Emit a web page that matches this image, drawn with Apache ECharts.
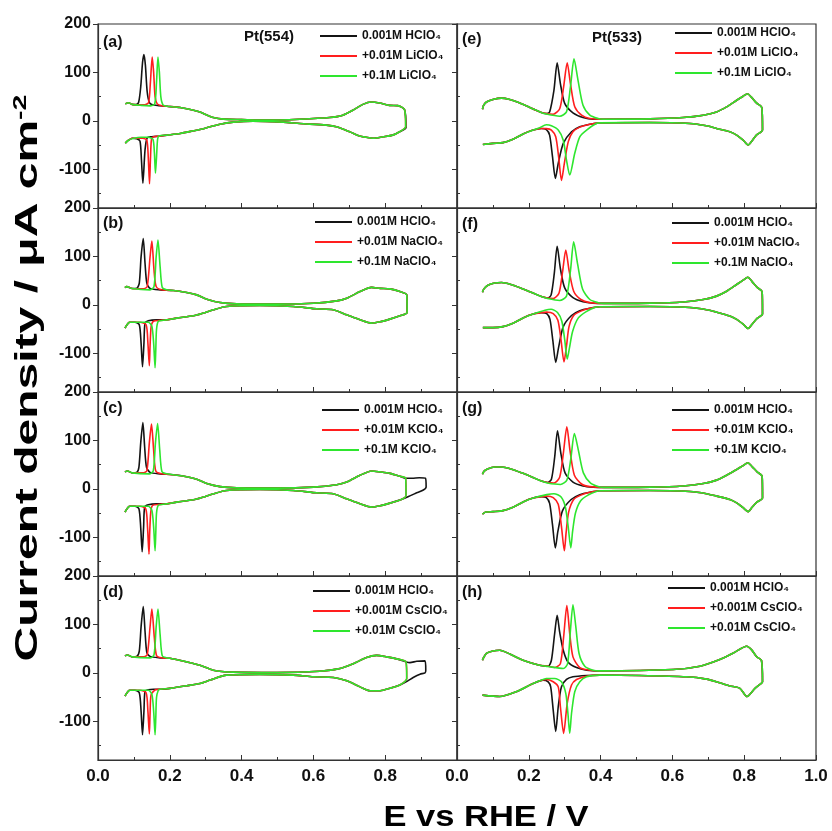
<!DOCTYPE html>
<html>
<head>
<meta charset="utf-8">
<script src="https://cdn.jsdelivr.net/npm/echarts@6/dist/echarts.min.js"></script>
<style>
  html, body { margin: 0; padding: 0; background: #fff; }
  #main { width: 832px; height: 831px; }
</style>
</head>
<body>
<div id="main"></div>
<script>
// ---- data: [E / V, j / uA cm-2] ----
// every loop: up0 -> peak (per series) -> up -> turn -> dn -> dip (per series) -> dn0

// (a) Pt(554) LiClO4
var aUp0 = [[0.076, 35], [0.085, 37.5], [0.095, 34]];
var aUpK = [[0.105, 33.5], [0.113, 38], [0.119, 70], [0.124, 120], [0.128, 137], [0.132, 115], [0.137, 60], [0.143, 38], [0.152, 33], [0.170, 31.5]];
var aUpR = [[0.110, 33], [0.130, 33], [0.141, 38], [0.146, 80], [0.151, 132], [0.155, 100], [0.159, 50], [0.165, 35], [0.178, 31]];
var aUpG = [[0.120, 32], [0.145, 31], [0.158, 35], [0.163, 80], [0.167, 132], [0.171, 100], [0.175, 50], [0.181, 33]];
var aUp = [[0.192, 30], [0.229, 27.4], [0.266, 22], [0.284, 18.5], [0.300, 13], [0.321, 6.9], [0.350, 3.5], [0.400, 2.5], [0.469, 1.4], [0.562, 3.4], [0.645, 6.9], [0.682, 11.7], [0.710, 22], [0.738, 34], [0.761, 39], [0.784, 37], [0.812, 32], [0.835, 31.5], [0.854, 23]];
var aTurn = [[0.857, -12]];
var aTurnK = [[0.858, -14]];
var aDn = [[0.840, -22.6], [0.821, -29.5], [0.794, -33], [0.766, -36], [0.747, -34], [0.729, -31.5], [0.701, -22.6], [0.664, -12.3], [0.636, -8.9], [0.562, -5.5], [0.516, -2.7], [0.432, -0.7], [0.377, -2.7], [0.340, -6.9], [0.312, -12.3], [0.284, -17.8], [0.266, -20.6], [0.229, -26], [0.192, -29.5], [0.170, -31.5]];
var aDnK = [[0.150, -33], [0.137, -35], [0.131, -60], [0.125, -129], [0.121, -80], [0.117, -42], [0.108, -37], [0.095, -36]];
var aDnR = [[0.155, -33], [0.149, -38], [0.146, -80], [0.1435, -130], [0.140, -75], [0.136, -40], [0.125, -36], [0.110, -36], [0.095, -36]];
var aDnG = [[0.166, -38], [0.163, -75], [0.160, -108], [0.157, -65], [0.153, -38], [0.140, -34], [0.120, -34], [0.100, -36]];
var aDn0 = [[0.085, -40], [0.076, -46]];

// (b) Pt(554) NaClO4
var bUp0 = [[0.075, 35.7], [0.080, 37.7], [0.095, 33.6]];
var bUpK = [[0.108, 34], [0.115, 45], [0.120, 99], [0.126, 137], [0.131, 86], [0.136, 45], [0.145, 34], [0.173, 31]];
var bUpR = [[0.126, 33], [0.137, 37.7], [0.145, 99], [0.150, 132], [0.156, 72], [0.162, 38], [0.177, 31]];
var bUpG = [[0.145, 31], [0.156, 37.7], [0.162, 99], [0.167, 134], [0.173, 79], [0.179, 35.7], [0.191, 31]];
var bUp = [[0.210, 29.5], [0.247, 25.4], [0.275, 20.6], [0.303, 11.7], [0.340, 4.8], [0.386, 2], [0.498, 1.4], [0.600, 3.4], [0.665, 8.2], [0.693, 13.7], [0.730, 27.4], [0.762, 36], [0.786, 34], [0.813, 33], [0.841, 27.4], [0.860, 20.6]];
var bTurn = [[0.861, -15.8]];
var bTurnK = [[0.861, -15.8]];
var bDn = [[0.841, -22.6], [0.813, -29.5], [0.786, -35], [0.762, -37.7], [0.730, -31], [0.693, -20.6], [0.655, -10.3], [0.609, -8.2], [0.544, -3.4], [0.451, -1.4], [0.358, -3.4], [0.321, -10.3], [0.293, -17], [0.266, -22.6], [0.219, -27.4], [0.191, -31]];
var bDnK = [[0.163, -31], [0.140, -33], [0.131, -37.7], [0.128, -79], [0.124, -128], [0.120, -79], [0.115, -41], [0.103, -36]];
var bDnR = [[0.173, -32], [0.154, -34], [0.148, -45], [0.145, -85], [0.143, -125.5], [0.139, -79], [0.134, -41], [0.117, -36]];
var bDnG = [[0.182, -32], [0.168, -34], [0.163, -51], [0.161, -92], [0.159, -130], [0.155, -79], [0.150, -44], [0.140, -36], [0.117, -36]];
var bDn0 = [[0.089, -36], [0.084, -38], [0.075, -48]];

// (c) Pt(554) KClO4
var cUp0 = [[0.075, 35], [0.082, 37], [0.095, 33]];
var cUpK = [[0.108, 34], [0.114, 45], [0.119, 95], [0.125, 137], [0.130, 86], [0.135, 45], [0.145, 34], [0.173, 31]];
var cUpR = [[0.125, 33], [0.136, 37], [0.143, 95], [0.149, 134], [0.155, 80], [0.161, 37], [0.177, 31]];
var cUpG = [[0.143, 31], [0.154, 37], [0.160, 95], [0.166, 135], [0.172, 80], [0.178, 36], [0.191, 31]];
var cUp = [[0.210, 29], [0.247, 25], [0.275, 20], [0.303, 11], [0.340, 4.5], [0.386, 2], [0.498, 1.5], [0.600, 3.5], [0.665, 8.5], [0.693, 14], [0.730, 28], [0.762, 37], [0.786, 35], [0.813, 32], [0.841, 26], [0.857, 22]];
var cTurn = [[0.858, -14]];
var cTurnK = [[0.875, 22], [0.895, 23], [0.912, 22], [0.914, 4], [0.905, -3], [0.885, -9], [0.865, -16]];
var cDn = [[0.845, -22], [0.813, -29.5], [0.786, -35], [0.762, -37.7], [0.730, -31], [0.693, -20.6], [0.655, -10.3], [0.609, -8.2], [0.544, -3.4], [0.451, -1.4], [0.358, -3.4], [0.321, -10.3], [0.293, -17], [0.266, -22.6], [0.219, -27.4], [0.191, -31]];
var cDnK = [[0.163, -31], [0.140, -33], [0.130, -38], [0.127, -80], [0.123, -130], [0.119, -80], [0.114, -41], [0.103, -36]];
var cDnR = [[0.173, -32], [0.152, -34], [0.147, -48], [0.144, -90], [0.142, -135], [0.138, -80], [0.133, -41], [0.117, -36]];
var cDnG = [[0.182, -32], [0.168, -34], [0.163, -50], [0.161, -90], [0.159, -128], [0.155, -79], [0.150, -44], [0.140, -36], [0.117, -36]];
var cDn0 = [[0.089, -36], [0.084, -38], [0.075, -48]];

// (d) Pt(554) CsClO4
var dUp0 = [[0.075, 35], [0.082, 37], [0.095, 33]];
var dUpK = [[0.108, 34], [0.115, 45], [0.120, 95], [0.126, 137], [0.131, 86], [0.136, 42], [0.145, 34], [0.173, 31]];
var dUpR = [[0.126, 33], [0.137, 37], [0.145, 95], [0.150, 132], [0.157, 72], [0.163, 36], [0.177, 31]];
var dUpG = [[0.145, 31], [0.156, 37], [0.162, 95], [0.167, 132], [0.173, 79], [0.179, 35], [0.191, 31]];
var dUp = [[0.200, 30], [0.247, 22.6], [0.284, 15.8], [0.321, 5.5], [0.377, 1.4], [0.498, 0.5], [0.618, 3.4], [0.674, 8.9], [0.711, 19], [0.748, 31.5], [0.776, 36], [0.804, 33], [0.832, 28.8], [0.858, 22.6]];
var dTurn = [[0.860, -11.7]];
var dTurnK = [[0.869, 21], [0.888, 24], [0.911, 24.7], [0.913, 5.5], [0.911, 0], [0.897, -2.7], [0.878, -9.6], [0.862, -17]];
var dDn = [[0.841, -25], [0.813, -32], [0.786, -37], [0.758, -37], [0.730, -29], [0.693, -16.5], [0.656, -9.6], [0.600, -8.2], [0.544, -4.8], [0.451, -3.4], [0.358, -4.8], [0.312, -15], [0.284, -22], [0.247, -26.7], [0.200, -32], [0.173, -34]];
var dDnK = [[0.155, -34], [0.140, -35], [0.131, -38], [0.128, -79], [0.124, -128], [0.120, -79], [0.115, -41], [0.103, -36]];
var dDnR = [[0.160, -35], [0.148, -45], [0.145, -85], [0.143, -126], [0.139, -79], [0.134, -41], [0.117, -36]];
var dDnG = [[0.168, -36], [0.163, -51], [0.161, -92], [0.159, -128], [0.155, -79], [0.150, -44], [0.140, -36], [0.117, -36]];
var dDn0 = [[0.089, -36], [0.084, -38], [0.075, -48]];

// (e) Pt(533) LiClO4
var eUp0 = [[0.071, 24], [0.074, 32], [0.082, 39], [0.100, 44], [0.124, 47], [0.147, 44], [0.175, 37], [0.203, 27.4], [0.231, 18.5]];
var eUpK = [[0.249, 15], [0.258, 18.5], [0.270, 63], [0.279, 120], [0.288, 77], [0.300, 36], [0.323, 16.5], [0.351, 6.9], [0.379, 3.4]];
var eUpR = [[0.249, 15], [0.268, 13.7], [0.286, 25], [0.297, 70], [0.307, 120], [0.316, 77], [0.328, 29], [0.347, 11.7], [0.370, 4.8]];
var eUpG = [[0.249, 14], [0.286, 9.6], [0.305, 18.5], [0.316, 70], [0.326, 128], [0.337, 84], [0.351, 32], [0.370, 11.7], [0.393, 4.8]];
var eUp = [[0.407, 3.4], [0.537, 4.1], [0.630, 6.9], [0.686, 11.7], [0.723, 18.5], [0.751, 28.8], [0.779, 42.5], [0.797, 50.8], [0.809, 56], [0.820, 49], [0.834, 37], [0.849, 27.4]];
var eTurn = [[0.851, -19]];
var eTurnK = [[0.851, -19]];
var eDn = [[0.834, -29.5], [0.820, -43], [0.811, -50], [0.797, -40], [0.779, -29.5], [0.760, -22.6], [0.723, -15.8], [0.695, -10.3], [0.649, -5.5], [0.537, -3.4], [0.398, -4.1]];
var eDnK = [[0.370, -6.9], [0.342, -12.3], [0.319, -22.6], [0.296, -46.6], [0.282, -88], [0.274, -119], [0.266, -74], [0.258, -29.5], [0.249, -18], [0.235, -15.8]];
var eDnR = [[0.370, -6.9], [0.342, -13], [0.323, -22.6], [0.310, -43], [0.299, -88], [0.291, -123], [0.283, -74], [0.275, -33], [0.263, -19], [0.249, -16], [0.235, -15.8]];
var eDnG = [[0.389, -5], [0.361, -19], [0.342, -33], [0.328, -67], [0.314, -112], [0.305, -81], [0.296, -40], [0.282, -19], [0.263, -10.3], [0.249, -8.2], [0.228, -15]];
var eDn0 = [[0.212, -19], [0.184, -27], [0.156, -38], [0.128, -45], [0.100, -46.6], [0.072, -48.7]];

// (f) Pt(533) NaClO4
var fUp0 = [[0.071, 26], [0.075, 33], [0.085, 40], [0.105, 45], [0.124, 46], [0.150, 42], [0.180, 34], [0.210, 25], [0.235, 17]];
var fUpK = [[0.252, 14], [0.262, 20], [0.271, 65], [0.279, 121], [0.288, 75], [0.300, 35], [0.323, 15], [0.351, 6.5], [0.379, 3.5]];
var fUpR = [[0.252, 14], [0.268, 13], [0.284, 24], [0.294, 68], [0.303, 113], [0.312, 72], [0.325, 28], [0.345, 11], [0.370, 4.5]];
var fUpG = [[0.252, 13], [0.286, 9], [0.305, 18], [0.316, 70], [0.325, 130], [0.336, 84], [0.350, 32], [0.370, 11], [0.393, 4.5]];
var fUp = [[0.410, 3], [0.540, 3.5], [0.630, 6], [0.686, 11], [0.723, 18], [0.751, 28], [0.779, 42], [0.797, 51], [0.810, 57], [0.822, 48], [0.836, 36], [0.850, 27]];
var fTurn = [[0.851, -19]];
var fTurnK = [[0.851, -19]];
var fDn = [[0.836, -28], [0.822, -40], [0.811, -49], [0.797, -40], [0.779, -30], [0.760, -23], [0.723, -15], [0.695, -10], [0.649, -5.5], [0.537, -3.4], [0.398, -4]];
var fDnK = [[0.370, -7], [0.342, -12], [0.319, -22], [0.296, -45], [0.283, -88], [0.275, -119], [0.267, -74], [0.259, -30], [0.250, -18], [0.235, -16]];
var fDnR = [[0.370, -7], [0.345, -13], [0.325, -22], [0.312, -45], [0.305, -85], [0.298, -118], [0.290, -74], [0.281, -32], [0.268, -18], [0.250, -15], [0.235, -16]];
var fDnG = [[0.385, -5], [0.360, -14], [0.338, -27], [0.322, -55], [0.313, -90], [0.307, -112], [0.300, -72], [0.292, -34], [0.280, -16], [0.262, -9], [0.245, -11]];
var fDn0 = [[0.212, -19], [0.184, -27], [0.156, -38], [0.128, -45], [0.100, -47], [0.072, -47]];

// (g) Pt(533) KClO4
var gUp0 = [[0.071, 30], [0.075, 36], [0.085, 41], [0.105, 45], [0.124, 45], [0.150, 41], [0.180, 33], [0.210, 24], [0.235, 16]];
var gUpK = [[0.252, 13], [0.263, 20], [0.272, 65], [0.280, 120], [0.289, 75], [0.301, 33], [0.323, 14], [0.351, 6], [0.379, 3.5]];
var gUpR = [[0.252, 13], [0.270, 12], [0.286, 24], [0.296, 72], [0.306, 128], [0.315, 78], [0.327, 28], [0.347, 10], [0.370, 4.5]];
var gUpG = [[0.252, 12], [0.288, 9], [0.306, 18], [0.317, 62], [0.327, 114], [0.338, 80], [0.352, 33], [0.372, 12], [0.395, 4.5]];
var gUp = [[0.410, 3], [0.540, 3.5], [0.630, 6], [0.686, 11], [0.723, 18], [0.751, 28], [0.779, 40], [0.797, 48], [0.810, 54], [0.822, 46], [0.836, 35], [0.850, 26]];
var gTurn = [[0.851, -19]];
var gTurnK = [[0.851, -19]];
var gDn = [[0.836, -27], [0.822, -38], [0.811, -47], [0.797, -39], [0.779, -29], [0.760, -22], [0.723, -15], [0.695, -10], [0.649, -5.5], [0.537, -3.4], [0.398, -4]];
var gDnK = [[0.370, -7], [0.342, -12], [0.318, -22], [0.294, -45], [0.281, -88], [0.274, -122], [0.266, -74], [0.258, -30], [0.249, -18], [0.235, -16]];
var gDnR = [[0.370, -7], [0.345, -13], [0.325, -22], [0.311, -48], [0.304, -90], [0.299, -128], [0.291, -78], [0.282, -32], [0.268, -18], [0.250, -15], [0.235, -16]];
var gDnG = [[0.390, -5], [0.365, -13], [0.344, -25], [0.330, -50], [0.322, -88], [0.317, -122], [0.310, -80], [0.302, -38], [0.290, -17], [0.270, -10], [0.250, -12]];
var gDn0 = [[0.212, -19], [0.184, -27], [0.156, -38], [0.128, -45], [0.100, -47], [0.080, -48], [0.071, -52]];

// (h) Pt(533) CsClO4
var hUp0 = [[0.071, 26], [0.073, 30], [0.082, 40], [0.100, 45], [0.119, 46.6], [0.147, 39], [0.184, 26], [0.230, 15.8]];
var hUpK = [[0.254, 13.7], [0.263, 26], [0.272, 81], [0.279, 118.6], [0.286, 84], [0.296, 46.6], [0.309, 22.6], [0.333, 11], [0.361, 5.5]];
var hUpR = [[0.254, 13.7], [0.272, 11], [0.288, 19], [0.297, 74], [0.306, 139], [0.314, 81], [0.323, 33], [0.342, 11], [0.370, 5.5]];
var hUpG = [[0.254, 13], [0.296, 9], [0.308, 19], [0.316, 88], [0.323, 140.6], [0.331, 95], [0.340, 40], [0.356, 13.7], [0.379, 5.5]];
var hUp = [[0.398, 4.1], [0.602, 6.9], [0.677, 13.7], [0.732, 27.4], [0.770, 41], [0.807, 55], [0.820, 48], [0.835, 33], [0.848, 26]];
var hTurn = [[0.851, -18.5]];
var hTurnK = [[0.851, -18.5]];
var hDn = [[0.849, -20.6], [0.830, -32], [0.808, -49], [0.788, -32], [0.760, -27], [0.732, -20.6], [0.695, -13], [0.639, -8.2], [0.509, -5.5], [0.398, -4.8]];
var hDnK = [[0.361, -5.5], [0.323, -8.2], [0.305, -13.7], [0.291, -28.8], [0.282, -70], [0.275, -121], [0.268, -77], [0.261, -29], [0.254, -18.5], [0.240, -15]];
var hDnR = [[0.361, -6.9], [0.333, -13.7], [0.319, -25], [0.307, -63], [0.297, -125], [0.288, -70], [0.282, -29], [0.268, -18.5], [0.249, -13.7], [0.230, -17]];
var hDnG = [[0.361, -8.2], [0.342, -18.5], [0.328, -39], [0.319, -84], [0.314, -125], [0.309, -84], [0.303, -42.5], [0.291, -18.5], [0.272, -11.7], [0.249, -11.7], [0.230, -16.5]];
var hDn0 = [[0.212, -22], [0.165, -39], [0.119, -49], [0.071, -46]];

// legend texts
var namesLi = ['0.001M HClO₄', '+0.01M LiClO₄', '+0.1M LiClO₄'];
var namesNa = ['0.001M HClO₄', '+0.01M NaClO₄', '+0.1M NaClO₄'];
var namesK = ['0.001M HClO₄', '+0.01M KClO₄', '+0.1M KClO₄'];
var namesCs = ['0.001M HClO₄', '+0.001M CsClO₄', '+0.01M CsClO₄'];

// ticks
var yLabels = [-100, 0, 100, 200];
var yMinor = [-150, -50, 50, 150];
var xLabelsLeft = [0, 0.2, 0.4, 0.6, 0.8];
var xLabelsRight = [0, 0.2, 0.4, 0.6, 0.8, 1.0];

var fam = '"Liberation Sans", Arial, sans-serif';
var colors = ['#141414', '#ff1e1e', '#2ee62e'];

function panel(up0, upK, upR, upG, up, turn, turnK, dn, dnK, dnR, dnG, dn0) {
    return {
        K: up0.concat(upK, up, turnK, dn, dnK, dn0),
        R: up0.concat(upR, up, turn, dn, dnR, dn0),
        G: up0.concat(upG, up, turn, dn, dnG, dn0)
    };
}

var panels = [
    panel(aUp0, aUpK, aUpR, aUpG, aUp, aTurn, aTurnK, aDn, aDnK, aDnR, aDnG, aDn0),
    panel(bUp0, bUpK, bUpR, bUpG, bUp, bTurn, bTurnK, bDn, bDnK, bDnR, bDnG, bDn0),
    panel(cUp0, cUpK, cUpR, cUpG, cUp, cTurn, cTurnK, cDn, cDnK, cDnR, cDnG, cDn0),
    panel(dUp0, dUpK, dUpR, dUpG, dUp, dTurn, dTurnK, dDn, dDnK, dDnR, dDnG, dDn0),
    panel(eUp0, eUpK, eUpR, eUpG, eUp, eTurn, eTurnK, eDn, eDnK, eDnR, eDnG, eDn0),
    panel(fUp0, fUpK, fUpR, fUpG, fUp, fTurn, fTurnK, fDn, fDnK, fDnR, fDnG, fDn0),
    panel(gUp0, gUpK, gUpR, gUpG, gUp, gTurn, gTurnK, gDn, gDnK, gDnR, gDnG, gDn0),
    panel(hUp0, hUpK, hUpR, hUpG, hUp, hTurn, hTurnK, hDn, hDnK, hDnR, hDnG, hDn0)
];
var panelNames = [namesLi, namesNa, namesK, namesCs, namesLi, namesNa, namesK, namesCs];
var panelTags = ['(a)', '(b)', '(c)', '(d)', '(e)', '(f)', '(g)', '(h)'];
// legend placement (left, top) and tag y
var legendPos = [[320, 29], [315, 215], [322, 403], [313, 584], [675, 26], [672, 216], [672, 403], [668, 581]];
var tagY = [43, 224, 409, 593, 40, 225, 409, 593];

var grids = [], xAxes = [], yAxes = [], series = [], legends = [], graphics = [];
var axisColor = '#333';

for (var i = 0; i < 8; i++) {
    var col = i < 4 ? 0 : 1;
    var row = i % 4;
    grids.push({
        left: col === 0 ? 98 : 457, top: 24 + row * 184, width: 359, height: 184,
        show: true, borderColor: axisColor, borderWidth: 1.2,
        containLabel: false, outerBoundsMode: 'none'
    });
    xAxes.push({
        gridIndex: i, type: 'value', min: 0, max: 1, interval: 0.2,
        axisLine: { show: true, onZero: false, lineStyle: { color: axisColor, width: 1.2 } },
        axisTick: { show: true, inside: true, length: 5, lineStyle: { color: axisColor } },
        minorTick: { show: true, splitNumber: 2, length: 3, lineStyle: { color: axisColor } },
        axisLabel: {
            show: row === 3, customValues: col === 0 ? xLabelsLeft : xLabelsRight,
            formatter: function (v) { return v.toFixed(1); },
            margin: 8, fontSize: 17, fontWeight: 'bold', color: '#111', fontFamily: fam
        },
        splitLine: { show: false }
    });
    yAxes.push({
        gridIndex: i, type: 'value', min: -180, max: 200,
        axisLine: { show: true, onZero: false, lineStyle: { color: axisColor, width: 1.2 } },
        axisTick: { show: true, inside: false, length: 5, customValues: yLabels, lineStyle: { color: axisColor } },
        axisLabel: {
            show: col === 0, customValues: yLabels, margin: 7,
            fontSize: 16, fontWeight: 'bold', color: '#111', fontFamily: fam
        },
        splitLine: { show: false }
    });

    var data = panels[i];
    var keys = ['K', 'R', 'G'];
    for (var k = 0; k < 3; k++) {
        series.push({
            name: panelNames[i][k], type: 'line', xAxisIndex: i, yAxisIndex: i,
            data: data[keys[k]], symbol: 'none', smooth: 0.25,
            lineStyle: { color: colors[k], width: 1.6 }, itemStyle: { color: colors[k] },
            z: 2 + k
        });
    }

    legends.push({
        orient: 'vertical', left: legendPos[i][0], top: legendPos[i][1], padding: 0,
        icon: 'rect', itemWidth: 37, itemHeight: 2, itemGap: 6,
        textStyle: { fontSize: 12, fontWeight: 'bold', color: '#111', fontFamily: fam, lineHeight: 14 },
        data: panelNames[i]
    });

    graphics.push({
        type: 'text', x: col === 0 ? 103 : 462, y: tagY[i],
        style: { text: panelTags[i], font: 'bold 16px ' + fam, fill: '#111', textVerticalAlign: 'middle' }
    });
}

// minor y ticks on a twin axis per grid
for (var j = 0; j < 8; j++) {
    yAxes.push({
        gridIndex: j, type: 'value', min: -180, max: 200,
        axisLine: { show: false },
        axisTick: { show: true, inside: false, length: 3, customValues: yMinor, lineStyle: { color: axisColor } },
        axisLabel: { show: false },
        splitLine: { show: false }
    });
}

graphics.push(
    { type: 'text', x: 269, y: 37, style: { text: 'Pt(554)', font: 'bold 15px ' + fam, fill: '#111', textAlign: 'center', textVerticalAlign: 'middle' } },
    { type: 'text', x: 617, y: 38, style: { text: 'Pt(533)', font: 'bold 15px ' + fam, fill: '#111', textAlign: 'center', textVerticalAlign: 'middle' } },
    { type: 'text', x: 486, y: 818, scaleX: 1.15, style: { text: 'E vs RHE / V', font: 'bold 30px ' + fam, fill: '#000', textAlign: 'center', textVerticalAlign: 'middle' } },
    {
        type: 'text', x: 28, y: 378, rotation: Math.PI / 2, scaleX: 1.5,
        style: {
            text: '{t|Current density / μA cm}{s|-2}',
            rich: {
                t: { font: 'bold 32px ' + fam, fill: '#000', lineHeight: 34 },
                s: { font: 'bold 19px ' + fam, fill: '#000', verticalAlign: 'top', lineHeight: 34 }
            },
            textAlign: 'center', textVerticalAlign: 'middle'
        }
    }
);

var myChart = echarts.init(document.getElementById('main'), null, { renderer: 'canvas' });
myChart.setOption({
    animation: false,
    grid: grids,
    xAxis: xAxes,
    yAxis: yAxes,
    legend: legends,
    series: series,
    graphic: { elements: graphics }
});
</script>
</body>
</html>
